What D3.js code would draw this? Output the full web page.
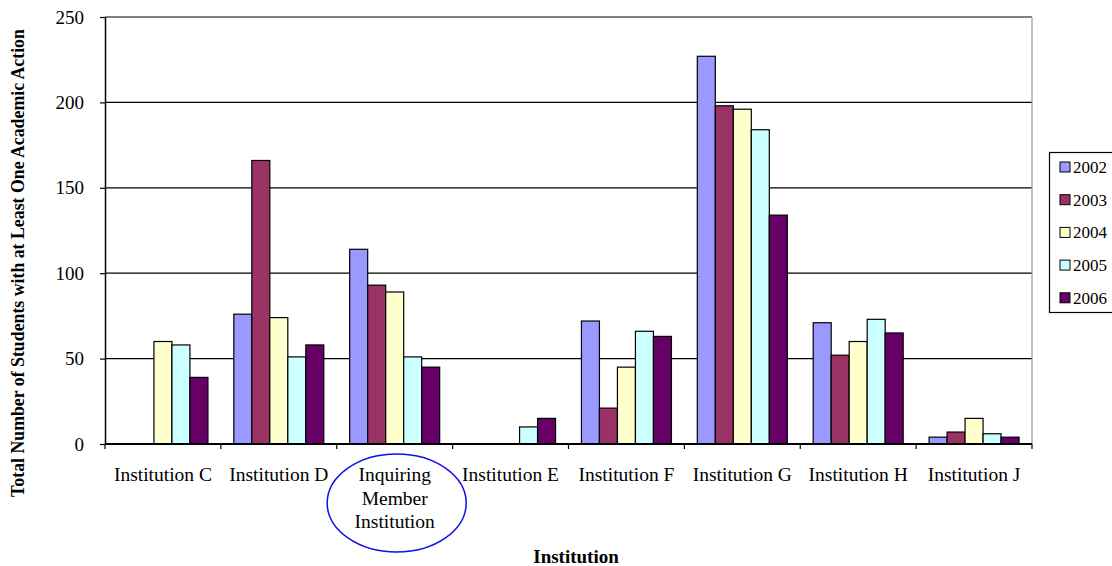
<!DOCTYPE html>
<html>
<head>
<meta charset="utf-8">
<script src="https://cdn.jsdelivr.net/npm/d3@7"></script>
<style>
  html, body { margin: 0; padding: 0; background: #fff; }
  svg { display: block; }
  text { font-family: "Liberation Serif", "Times New Roman", serif; fill: #000; }
</style>
</head>
<body>
<svg id="chart" width="1112" height="566"></svg>
<script>
// Institutions along the x axis
const institutions = ["Institution C", "Institution D", "Inquiring Member Institution",
  "Institution E", "Institution F", "Institution G", "Institution H", "Institution J"];
const years = ["2002", "2003", "2004", "2005", "2006"];
const yearColors = ["#9999FF", "#993366", "#FFFFCC", "#CCFFFF", "#660066"];

// Students with at least one academic action, one array per year (null = no bar)
const v2002 = [null, 76, 114, null, 72, 227, 71, 4];
const v2003 = [null, 166, 93, null, 21, 198, 52, 7];
const v2004 = [60, 74, 89, null, 45, 196, 60, 15];
const v2005 = [58, 51, 51, 10, 66, 184, 73, 6];
const v2006 = [39, 58, 45, 15, 63, 134, 65, 4];
const yTicks = [0, 50, 100, 150, 200, 250];

const seriesValues = [v2002, v2003, v2004, v2005, v2006];

const svg = d3.select("#chart");
const plot = { left: 105, right: 1032, top: 17, bottom: 444 };

const x0 = d3.scaleBand().domain(institutions).range([plot.left, plot.right]).padding(0);
const groupW = x0.bandwidth();
const barW = 18;
const inset = (groupW - barW * years.length) / 2;
const x1 = d3.scaleBand().domain(years).range([inset, inset + barW * years.length]).padding(0);
const y = d3.scaleLinear().domain([0, 250]).range([plot.bottom, plot.top]);

// Horizontal gridlines
svg.append("g")
  .selectAll("line")
  .data(yTicks.filter(t => t > 0))
  .join("line")
  .attr("x1", plot.left).attr("x2", plot.right)
  .attr("y1", d => y(d)).attr("y2", d => y(d))
  .attr("stroke", "#000").attr("stroke-width", 1.2);

// Right edge of the plot area
svg.append("line")
  .attr("x1", plot.right).attr("x2", plot.right)
  .attr("y1", plot.top).attr("y2", plot.bottom)
  .attr("stroke", "#999").attr("stroke-width", 1.2);

// Bars
const rows = [];
institutions.forEach((inst, i) => {
  years.forEach((yr, j) => {
    const v = seriesValues[j][i];
    if (v != null) rows.push({ inst, yr, v, color: yearColors[j] });
  });
});

svg.append("g")
  .selectAll("rect")
  .data(rows)
  .join("rect")
  .attr("x", d => x0(d.inst) + x1(d.yr))
  .attr("y", d => y(d.v))
  .attr("width", x1.bandwidth())
  .attr("height", d => y(0) - y(d.v))
  .attr("fill", d => d.color)
  .attr("stroke", "#000")
  .attr("stroke-width", 1.2);

// Y axis
const yAxis = svg.append("g")
  .attr("transform", `translate(${plot.left},0)`)
  .call(d3.axisLeft(y).tickValues(yTicks).tickSize(5).tickPadding(16).tickSizeOuter(0));
yAxis.select(".domain").attr("stroke", "#000").attr("stroke-width", 1.5);
yAxis.selectAll(".tick line").attr("stroke", "#000").attr("stroke-width", 1.2);
yAxis.selectAll(".tick text")
  .attr("font-family", "Liberation Serif, serif")
  .attr("font-size", 19)
  .attr("fill", "#000");

// X axis: baseline with ticks at group boundaries
svg.append("line")
  .attr("x1", plot.left).attr("x2", plot.right)
  .attr("y1", plot.bottom).attr("y2", plot.bottom)
  .attr("stroke", "#000").attr("stroke-width", 2);

const boundaries = institutions.map(d => x0(d)).concat([plot.right]);
svg.append("g")
  .selectAll("line")
  .data(boundaries)
  .join("line")
  .attr("x1", d => d).attr("x2", d => d)
  .attr("y1", plot.bottom).attr("y2", plot.bottom + 5)
  .attr("stroke", "#000").attr("stroke-width", 1.2);

// Category labels (wrapped for the inquiring institution)
const catLabels = svg.append("g")
  .selectAll("text")
  .data(institutions)
  .join("text")
  .attr("x", d => x0(d) + groupW / 2)
  .attr("y", 481)
  .attr("text-anchor", "middle")
  .attr("font-size", 19.5);

catLabels.each(function(d) {
  const t = d3.select(this);
  const lines = d === "Inquiring Member Institution" ? ["Inquiring", "Member", "Institution"] : [d];
  lines.forEach((ln, k) => {
    t.append("tspan")
      .attr("x", x0(d) + groupW / 2)
      .attr("dy", k === 0 ? 0 : 23.5)
      .text(ln);
  });
});

// Highlight ring round the inquiring institution
svg.append("ellipse")
  .attr("cx", x0("Inquiring Member Institution") + groupW / 2 + 2)
  .attr("cy", 503)
  .attr("rx", 69.5)
  .attr("ry", 49)
  .attr("fill", "none")
  .attr("stroke", "#1010E8")
  .attr("stroke-width", 1.5);

// Axis titles
svg.append("text")
  .attr("x", 576)
  .attr("y", 563)
  .attr("text-anchor", "middle")
  .attr("font-weight", "bold")
  .attr("font-size", 19)
  .text("Institution");

svg.append("text")
  .attr("transform", "translate(24,263) rotate(-90)")
  .attr("text-anchor", "middle")
  .attr("font-weight", "bold")
  .attr("font-size", 17.8)
  .text("Total Number of Students with at Least One Academic Action");

// Legend
const legend = svg.append("g");
legend.append("rect")
  .attr("x", 1049.5).attr("y", 152.5)
  .attr("width", 70).attr("height", 160)
  .attr("fill", "#fff").attr("stroke", "#000").attr("stroke-width", 1.2);

const items = legend.selectAll("g.item")
  .data(years)
  .join("g")
  .attr("class", "item")
  .attr("transform", (d, i) => `translate(1060,${167 + i * 32.7})`);

items.append("rect")
  .attr("x", 0).attr("y", -5)
  .attr("width", 10).attr("height", 10)
  .attr("fill", (d, i) => yearColors[i])
  .attr("stroke", "#000").attr("stroke-width", 1);

items.append("text")
  .attr("x", 13).attr("y", 6)
  .attr("font-size", 17)
  .text(d => d);
</script>
</body>
</html>
